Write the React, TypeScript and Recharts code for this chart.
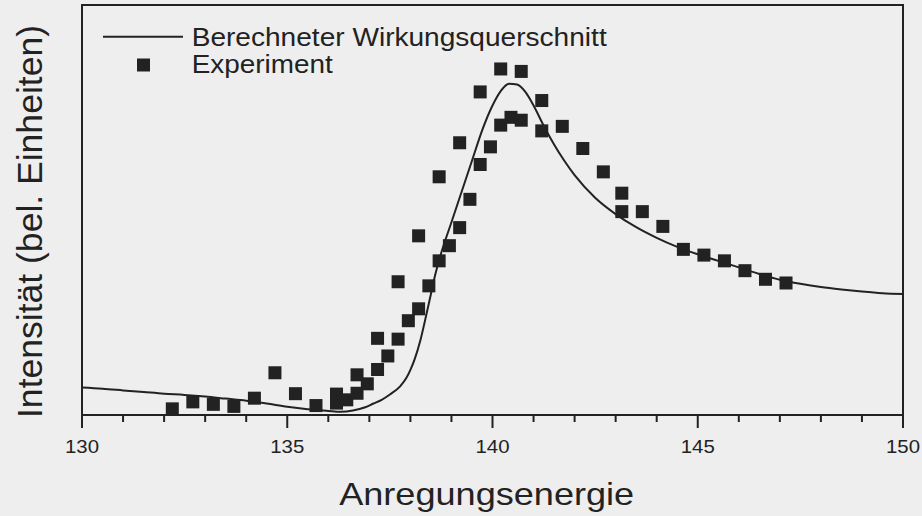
import React from 'react';
import {
  ComposedChart,
  Line,
  Scatter,
  XAxis,
  YAxis,
} from 'recharts';

// calculated cross section (line)
const calcX = [
  130, 130.5, 131, 131.5, 132, 132.5, 133, 133.5, 134, 134.5, 135, 135.5, 136, 136.3, 136.6, 136.9,
  137.1, 137.3, 137.5, 137.75, 137.9, 138, 138.1, 138.25, 138.4, 138.5, 138.6, 138.75, 139, 139.25,
  139.5, 139.75, 140, 140.2, 140.4, 140.6, 140.8, 141, 141.25, 141.5, 141.75, 142, 142.5, 143,
  143.5, 144, 144.5, 145, 145.5, 146, 146.5, 147, 147.5, 148, 148.5, 149, 149.5, 150,
];
const calcY = [
  6.7, 6.4, 6.0, 5.6, 5.2, 4.9, 4.5, 4.0, 3.5, 2.8, 2.0, 1.4, 1.0, 0.8, 1.1, 1.9,
  2.8, 3.7, 5.0, 7.0, 9.0, 11.0, 13.5, 18.5, 25.0, 29.5, 34.0, 39.5, 47.0, 54.5,
  62.0, 69.5, 75.5, 79.0, 80.8, 80.6, 78.8, 75.5, 70.5, 66.0, 62.0, 58.5, 53.0, 49.0,
  45.8, 43.2, 41.0, 39.2, 37.6, 36.0, 34.4, 33.0, 32.0, 31.2, 30.6, 30.1, 29.7, 29.5,
];

// experiment (squares)
const expX = [
  132.2, 132.7, 133.2, 133.7, 134.2, 134.7, 135.2, 135.7, 136.2, 136.2, 136.45, 136.7, 136.7, 136.95,
  137.2, 137.2, 137.45, 137.7, 137.7, 137.95, 138.2, 138.2, 138.45, 138.7, 138.7, 138.95, 139.2,
  139.2, 139.45, 139.7, 139.7, 139.95, 140.2, 140.2, 140.45, 140.7, 140.7, 141.2, 141.2, 141.7,
  142.2, 142.7, 143.15, 143.15, 143.65, 144.15, 144.65, 145.15, 145.65, 146.15, 146.65, 147.15,
];
const expY = [
  1.5, 3.2, 2.6, 2.1, 4.1, 10.3, 5.2, 2.3, 5.1, 2.9, 3.7, 9.8, 5.3, 7.6,
  18.7, 11.1, 14.4, 32.5, 18.5, 23.0, 43.7, 25.9, 31.5, 58.1, 37.6, 41.3, 66.4,
  45.7, 52.6, 78.8, 61.1, 65.4, 84.4, 70.7, 72.6, 83.8, 71.9, 76.7, 69.3, 70.4,
  65.0, 59.3, 54.1, 49.6, 49.6, 46.0, 40.4, 39.0, 37.6, 35.2, 33.1, 32.2,
];

const xTicks = [
  130, 131, 132, 133, 134, 135, 136, 137, 138, 139, 140,
  141, 142, 143, 144, 145, 146, 147, 148, 149, 150,
];

const ink = '#222';
const font = '"Liberation Sans", Arial, Helvetica, sans-serif';

const calcData = calcX.map((x, i) => ({ x, y: calcY[i] }));
const expData = expX.map((x, i) => ({ x, y: expY[i] }));

const XTick = ({ x, y, payload }: any) => {
  const major = payload.value % 5 === 0;
  return (
    <g>
      <line x1={x} x2={x} y1={y} y2={y + (major ? 13 : 7)} stroke={ink} strokeWidth={2} />
      {major && (
        <text
          x={x}
          y={y + 38}
          textAnchor="middle"
          fontSize={19}
          fontFamily={font}
          fill={ink}
          textLength={34}
          lengthAdjust="spacingAndGlyphs"
        >
          {payload.value}
        </text>
      )}
    </g>
  );
};

const SquareDot = ({ cx, cy }: any) => (
  <rect x={cx - 6.5} y={cy - 6.5} width={13} height={13} fill={ink} />
);

export default function App() {
  return (
    <div style={{ position: 'relative', width: 922, height: 516, background: '#eeeeee' }}>
      <style>{`body{margin:0}`}</style>
      <ComposedChart
        width={922}
        height={516}
        margin={{ top: 5, right: 19, left: 0, bottom: 0 }}
      >
        <XAxis
          dataKey="x"
          type="number"
          domain={[130, 150]}
          ticks={xTicks}
          interval={0}
          allowDataOverflow
          tickSize={0}
          tickMargin={0}
          tick={<XTick />}
          axisLine={{ stroke: ink, strokeWidth: 2 }}
          height={101}
        />
        <YAxis
          dataKey="y"
          type="number"
          domain={[0, 100]}
          width={82}
          tick={false}
          tickLine={false}
          axisLine={false}
        />
        <Line
          data={calcData}
          dataKey="y"
          type="monotone"
          stroke={ink}
          strokeWidth={2}
          dot={false}
          activeDot={false}
          isAnimationActive={false}
        />
        <Scatter
          data={expData}
          dataKey="y"
          shape={<SquareDot />}
          isAnimationActive={false}
        />
      </ComposedChart>
      <svg
        width={922}
        height={516}
        style={{ position: 'absolute', left: 0, top: 0, pointerEvents: 'none' }}
        fontFamily={font}
        fill={ink}
      >
        {/* plot frame */}
        <path d="M82 5 H903 V415 H82 Z" fill="none" stroke={ink} strokeWidth={2} />
        {/* legend */}
        <line x1={103} x2={183} y1={36.7} y2={36.7} stroke={ink} strokeWidth={2} />
        <text x={191.7} y={46} fontSize={25} textLength={415} lengthAdjust="spacingAndGlyphs">
          Berechneter Wirkungsquerschnitt
        </text>
        <rect x={137} y={58.5} width={13} height={13} fill={ink} />
        <text x={191.7} y={73} fontSize={25} textLength={141} lengthAdjust="spacingAndGlyphs">
          Experiment
        </text>
        {/* axis titles */}
        <text
          x={486.7}
          y={504.5}
          fontSize={32}
          textAnchor="middle"
          textLength={295}
          lengthAdjust="spacingAndGlyphs"
        >
          Anregungsenergie
        </text>
        <text
          x={42}
          y={221.5}
          fontSize={35}
          textAnchor="middle"
          transform="rotate(-90 42 221.5)"
          textLength={393}
          lengthAdjust="spacingAndGlyphs"
        >
          Intensität (bel. Einheiten)
        </text>
      </svg>
    </div>
  );
}
